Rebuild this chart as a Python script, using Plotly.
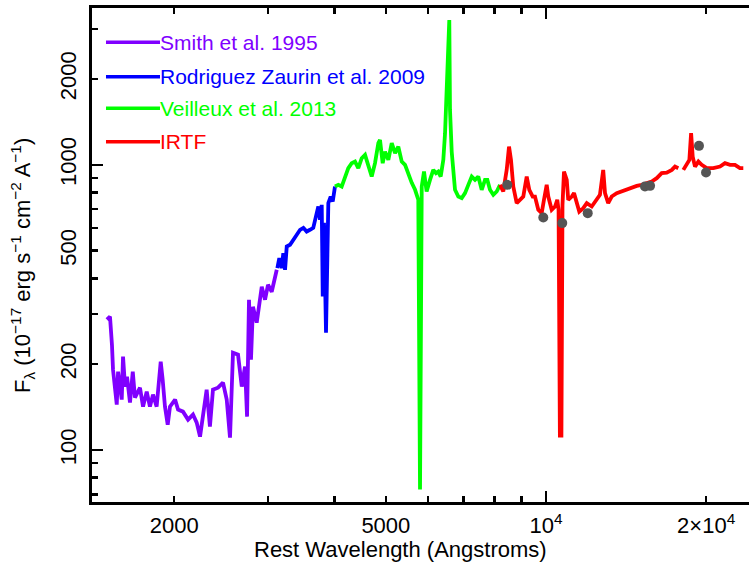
import plotly.graph_objects as go

# ---------------- data ----------------
smith_wl = [1495, 1515, 1528, 1535, 1560, 1569, 1594, 1603, 1617, 1631, 1652, 1672, 1688, 1725, 1748,
            1776, 1801, 1825, 1854, 1887, 1903, 1922, 1945, 1964, 2008, 2034, 2078, 2124, 2170, 2205,
            2237, 2266, 2302, 2335, 2366, 2418, 2471, 2511, 2547, 2580, 2637, 2680, 2718, 2742, 2765,
            2789, 2813, 2859, 2922, 2964, 3002, 3051, 3118]
smith_flux = [286.5, 293.5, 234, 191.4, 144.3, 188.4, 150.3, 212.6, 166.9, 180.9, 146.7, 188.4, 152.8, 165.5, 142.0,
              160.3, 142.0, 156.5, 142.0, 204.2, 176.6, 142.0, 122.8, 142.0, 150.3, 138.7, 136.4, 127.9, 133.2, 124.8,
              111.5, 131.0, 162.9, 120.9, 162.9, 165.5, 172.4, 150.3, 110.6, 219.5, 216.0, 166.9, 196.1, 131.0, 336.6,
              207.5, 318.1, 279.7, 373.9, 336.6, 379.9, 359.1, 428.7]

rz_wl = [3126, 3153, 3186, 3208, 3232, 3256, 3303, 3350, 3400, 3449, 3499, 3549, 3600, 3652, 3707,
         3733, 3760, 3788, 3805, 3826, 3859, 3881, 3898, 3938, 3973, 4012]
rz_flux = [434.6, 471.2, 434.6, 490.6, 428.7, 517.4, 524.6, 546.0, 568.5, 592.0, 601.6, 583.9, 592.0, 601.6, 677.2,
           714.2, 641.7, 724.1, 345.7, 626.3, 257.9, 406.3, 734.1, 774.5, 743.9, 839.5]

veil_wl = [4012, 4071, 4130, 4190, 4250, 4313, 4375, 4438, 4504, 4569, 4634, 4703, 4771, 4840, 4875,
           4932, 4982, 5054, 5129, 5203, 5277, 5356, 5433, 5511, 5593, 5674, 5754, 5797, 5840, 5898,
           5965, 6053, 6140, 6211, 6274, 6340, 6412, 6460, 6506, 6553, 6580, 6600, 6649, 6745, 6842,
           6944, 7044, 7145, 7251, 7355, 7460, 7571, 7680, 7758, 7848, 7961, 8079, 8195]
veil_flux = [839.5, 851.0, 839.5, 910.0, 973.7, 1013.8, 1027, 973.7, 1055.6, 1084, 1000, 910.0, 1013.8, 1191, 1223,
             1013.8, 1113, 1041, 1191, 1099, 1159, 1027, 1000, 922.6, 864.9, 817.7, 754.4, 72.7, 839.5, 947.3,
             806.6, 885.8, 960.4, 935.2, 947.3, 910.0, 1041, 1291, 1933, 3220, 3220, 1558, 1113, 817.7, 774.4,
             764.6, 796.0, 851.0, 910.0, 885.8, 910.0, 817.7, 885.8, 885.8, 817.7, 785.0, 806.6, 851.0]

irtf_wl = [8195, 8312, 8436, 8521, 8594, 8680, 8809, 8935, 9064, 9199, 9303, 9441, 9535, 9672, 9815,
           9913, 10030, 10100, 10250, 10400, 10500, 10560, 10620, 10690, 10740, 10810, 10940, 11010, 11180, 11290,
           11420, 11550, 11750, 11930, 12190, 12450, 12630, 12810, 12910, 13090, 13290, 13580, 13870, 14180, 14490,
           14810, 15130, 15460, 15800, 16150, 16500, 16860, 17240, 17480, 17730, None, 18120, 18390, 18600, 18740,
           18870, 19060, 19340, 19620, 20050, 20630, 21240, 21700, 22180, 22660, 23150, 23490]
irtf_flux = [851.0, 806.6, 960.4, 1159, 1041, 839.5, 734.1, 754.4, 774.4, 910.0, 817.7, 774.4, 774.4, 695.9, 677.2,
             754.4, 851.0, 774.4, 695.9, 714.6, 754.4, 695.9, 112.4, 112.4, 724.5, 947.3, 885.8, 754.4, 774.4, 796.0,
             734.1, 686.1, 705.2, 734.1, 714.6, 754.4, 785.0, 960.4, 796.0, 734.1, 774.4, 796.0, 806.6, 817.7, 835.5,
             844.2, 851.0, 862.8, 874.0, 898.2, 935.2, 939.7, 960.4, 986.3, 973.7, None, 960.4, 1013.8, 1041, 1291,
             1069, 986.3, 1027, 1000, 973.7, 973.7, 986.3, 1013.8, 1000, 1000, 973.7, 973.7]

phot_wl = [8459, 9884, 10730, 11980, 15350, 15690, 19390, 19990]
phot_flux = [851, 653.6, 624.9, 677.2, 839.5, 844.2, 1166, 939.7]

series_names = ["Smith et al. 1995", "Rodriguez Zaurin et al. 2009", "Veilleux et al. 2013", "IRTF"]
series_colors = ["#8000ff", "#0000ff", "#00ff00", "#ff0000"]

x_major_vals = [2000, 5000, 10000, 20000]
x_major_text = ["2000", "5000", "10<sup>4</sup>", "2×10<sup>4</sup>"]
x_minor_vals = [3000, 4000, 6000, 7000, 8000, 9000]
x_decade_vals = [10000]
y_major_vals = [100, 200, 500, 1000, 2000]
y_major_text = ["100", "200", "500", "1000", "2000"]
y_minor_vals = [70, 80, 90, 300, 400, 600, 700, 800, 900, 3000]
y_decade_vals = [100, 1000]

# ---------------- figure ----------------
FONT = "Liberation Sans, Arial, sans-serif"
fig = go.Figure()
for wl, fl, col in [(smith_wl, smith_flux, series_colors[0]), (rz_wl, rz_flux, series_colors[1]),
                    (veil_wl, veil_flux, series_colors[2]), (irtf_wl, irtf_flux, series_colors[3])]:
    fig.add_trace(go.Scatter(x=wl, y=fl, mode="lines", line=dict(color=col, width=3.8),
                             connectgaps=False, showlegend=False, hoverinfo="skip"))

fig.add_trace(go.Scatter(x=phot_wl, y=phot_flux, mode="markers", xaxis="x2", yaxis="y2",
                         marker=dict(color="#555555", size=10), showlegend=False, hoverinfo="skip"))

xr = [3.1466, 4.3816]
yr = [1.818, 3.550]
axis_common = dict(type="log", showgrid=False, zeroline=False, color="black")

fig.update_layout(
    width=749, height=565,
    margin=dict(l=92, r=0, t=8, b=63),
    paper_bgcolor="white", plot_bgcolor="white",
    hovermode=False,
    font=dict(family=FONT, size=22, color="black"),
    xaxis=dict(**axis_common, range=xr, showline=True, linewidth=3, linecolor="black", mirror="ticks",
               tickmode="array", tickvals=x_major_vals, ticktext=x_major_text,
               ticks="inside", ticklen=6, tickwidth=2.5, tickcolor="black",
               minor=dict(tickvals=x_minor_vals, ticks="inside", ticklen=6, tickwidth=2.5, tickcolor="black"),
               tickfont=dict(size=22), ticklabelstandoff=2),
    yaxis=dict(**axis_common, range=yr, showline=True, linewidth=3, linecolor="black", mirror=False,
               tickmode="array", tickvals=y_major_vals, ticktext=y_major_text, tickangle=-90,
               ticks="inside", ticklen=6, tickwidth=2.5, tickcolor="black",
               minor=dict(tickvals=y_minor_vals, ticks="inside", ticklen=6, tickwidth=2.5, tickcolor="black"),
               tickfont=dict(size=22), ticklabelstandoff=4),
    xaxis2=dict(**axis_common, range=xr, overlaying="x", anchor="y2", side="bottom", showline=False,
                tickmode="array", tickvals=x_decade_vals, showticklabels=False, mirror="ticks",
                ticks="inside", ticklen=11, tickwidth=2.5, tickcolor="black"),
    yaxis2=dict(**axis_common, range=yr, overlaying="y", anchor="x2", side="left", showline=False,
                tickmode="array", tickvals=y_decade_vals, showticklabels=False,
                ticks="inside", ticklen=11, tickwidth=2.5, tickcolor="black"),
)

# custom legend (long line samples, coloured text)
row_y = [0.9305, 0.8609, 0.7970, 0.7293]
for name, col, yy in zip(series_names, series_colors, row_y):
    fig.add_shape(type="line", xref="paper", yref="paper", x0=0.0213, x1=0.1035, y0=yy, y1=yy,
                  line=dict(color=col, width=3.5))
    fig.add_annotation(xref="paper", yref="paper", x=0.1005, y=yy, text=name, showarrow=False,
                       xanchor="left", yanchor="middle", font=dict(family=FONT, size=21, color=col))

fig.add_annotation(xref="paper", yref="paper", x=(400 - 92) / 657, y=(502 - 549) / 494,
                   text="Rest Wavelength (Angstroms)", showarrow=False, xanchor="center", yanchor="middle",
                   font=dict(family=FONT, size=22, color="black"))
fig.add_annotation(xref="paper", yref="paper", x=(23 - 92) / 657, y=(502 - 266) / 494, textangle=-90,
                   text="F<sub>λ</sub> (10<sup>−17</sup> erg s<sup>−1</sup> cm<sup>−2</sup> A<sup>−1</sup>)",
                   showarrow=False, xanchor="center", yanchor="middle",
                   font=dict(family=FONT, size=22, color="black"))

fig.write_html("out.html", config={"displayModeBar": False, "staticPlot": True},
               post_script="document.body.style.margin='0px';")
